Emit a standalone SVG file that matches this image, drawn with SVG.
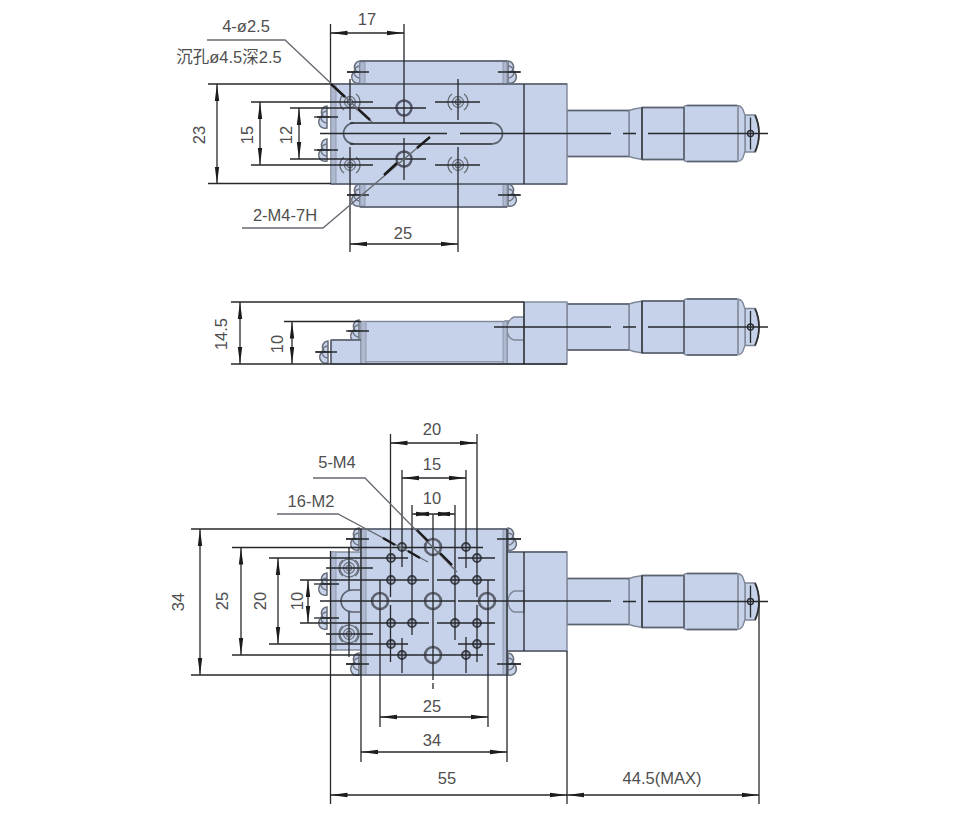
<svg xmlns="http://www.w3.org/2000/svg" width="980" height="827" viewBox="0 0 980 827">
<style>
.f{fill:#c5d2ea;stroke:#7f8797;stroke-width:1.4}
.b{fill:#aeb9d0;stroke:#8790a2;stroke-width:.8}
.e{fill:none;stroke:#5b6270;stroke-width:1.6}
.a{fill:none;stroke:#6f7582;stroke-width:1.3}
.d{fill:#c5d2ea;stroke:#666c78;stroke-width:1.5}
.l{fill:none;stroke:#26282c;stroke-width:1.3}
.m{fill:none;stroke:#26282c;stroke-width:1.3;marker-start:url(#ar);marker-end:url(#ar)}
.q{fill:none;stroke:#666a70;stroke-width:1.3}
.k{fill:none;stroke:#1c1c1c;stroke-width:2.400}
text{font-family:"Liberation Sans","Noto Sans CJK SC",sans-serif;font-size:16.5px;fill:#4f4f4f;text-anchor:middle;dominant-baseline:central}
</style>
<defs>
<marker id="ar" markerUnits="userSpaceOnUse" markerWidth="18" markerHeight="6" refX="17" refY="3" orient="auto-start-reverse"><path d="M17,3 L0,0.800 L0,5.200z" fill="#1c1c1c"/></marker>
<g id="micro">
<path class="f" d="M745,-18.500 H755 Q759,-10 759,0 Q759,10 755,18.500 H745z"/>
<path d="M755,-18.500 Q759,-10 759,0 Q759,10 755,18.500" fill="none" stroke="#333" stroke-width="1.8"/>
<path class="f" d="M684,-26 Q684,-28 687,-28 H737 Q741,-28 743,-24 L745,-18 V18 L743,24 Q741,28 737,28 H687 Q684,28 684,26z"/>
<path class="f" d="M642,-26 H684 V26 H642z"/>
<path class="f" d="M629,-23 L634,-24.500 L642,-26 V26 L634,24.500 L629,23z"/>
<rect class="f" x="567" y="-23" width="62" height="46"/>
<path class="e" d="M567,-23 H629 M567,23 H629 M642,-26 H684 M642,26 H684 M687,-28 H737 M687,28 H737"/>
<path class="l" d="M642,-26 V26"/>
<path class="e" d="M684,-26 V26" stroke-width="2.200"/>
<path class="a" d="M738,-27 V27"/>
<path class="l" d="M623,0 H636 M648,0 H768 M750.500,-16 V16"/>
<circle cx="750.500" cy="0" r="3" class="l"/>
</g>
<g id="sl"><path class="d" d="M1,-11 A6,6 0 0 0 -3,-1 A6,6 0 0 0 1,11z"/><path class="a" d="M1,-6 A6,6 0 0 0 1,6"/><path class="l" d="M-12,0 H11"/></g>
<g id="sr"><path class="d" d="M-1,-11 A6,6 0 0 1 3,-1 A6,6 0 0 1 -1,11z"/><path class="a" d="M-1,-6 A6,6 0 0 1 -1,6"/><path class="l" d="M-11,0 H12"/></g>
<g id="cb"><circle r="5.500" class="a"/><circle r="2.800" class="a"/><path class="q" d="M-6,-8 A10,10 0 0 0 -6,8 M6,-8 A10,10 0 0 1 6,8"/></g>
<g id="m4"><circle r="7.500" fill="#c5d2ea" stroke="#55596a" stroke-width="2.400"/></g>
<g id="m2"><circle r="4" fill="#aab5cc" stroke="#3d4048" stroke-width="1.800"/></g>
<g id="m5"><circle r="8" fill="#c5d2ea" stroke="#5f6470" stroke-width="2.600"/></g>
</defs>
<rect width="980" height="827" fill="#fff"/>

<g id="top-view">
<use href="#micro" x="0" y="133.500"/>
<use href="#sl" x="359" y="72"/><use href="#sl" x="359" y="195"/>
<use href="#sr" x="509" y="72"/><use href="#sr" x="509" y="195"/>
<use href="#sl" x="326" y="117"/><use href="#sl" x="326" y="150"/>
<rect class="f" x="360" y="61" width="147" height="23"/>
<rect class="f" x="360" y="184" width="147" height="23"/>
<path class="b" d="M360,62 h5 v22 h-5z M360,184 h5 v22 h-5z M503,62 h4 v22 h-4z M503,184 h4 v22 h-4z"/>
<rect class="f" x="331" y="84" width="236" height="100"/>
<rect class="b" x="331" y="84" width="5" height="100"/>
<path class="e" d="M360,61 H507 M360,207 H507 M331,84 H567 M331,184 H567"/>
<path class="l" d="M524,84 V184"/>
<path class="e" d="M354,123 A10.500,10.500 0 0 0 354,144"/>
<path class="e" d="M492,123 A10.500,10.500 0 0 1 492,144"/>
<path class="l" d="M350,123 H492 M350,144 H492"/>
<path class="l" d="M347,72 H369 M498,72 H520 M347,195 H369 M498,195 H520 M317,117 H338 M317,150 H338"/>
<use href="#cb" x="350" y="102"/><use href="#cb" x="350" y="165"/>
<use href="#cb" x="458" y="102"/><use href="#cb" x="458" y="165"/>
<use href="#m4" x="404" y="108"/><use href="#m4" x="404" y="159"/>
<path class="l" d="M320,133.500 H447 M460,133.500 H611 M435,102 H480 M435,165 H480 M404,138 V180 M404,24 V123 M350,79 V120 M350,147 V252 M458,79 V120 M458,147 V252"/>
</g>

<g id="side-view">
<use href="#micro" x="0" y="327"/>
<use href="#sl" x="327" y="352"/>
<use href="#sl" x="358" y="331"/>
<rect class="f" x="331" y="340" width="31" height="24"/>
<rect class="f" x="505" y="321" width="20" height="43"/>
<path class="f" d="M524,317 H514 Q507,320 507,329 Q507,338 514,340 H524z"/>
<rect class="f" x="361" y="321.500" width="146" height="42.500"/>
<path class="b" d="M361,321.500 h5 v42.500 h-5z M503,321.500 h4 v42.500 h-4z M366,361.500 h137 v2.500 h-137z"/>
<rect class="f" x="524" y="302" width="43" height="62"/>
<path class="e" d="M331,340 H361 M331,340 V364"/>
<path class="l" d="M524,302 V364 M494,327 H611 M316,352 H337 M348,331 H369"/>
</g>

<g id="bottom-view">
<use href="#micro" x="0" y="601.500"/>
<use href="#sl" x="326" y="584"/><use href="#sl" x="326" y="618"/>
<rect class="f" x="331" y="552" width="32" height="98"/>
<rect class="b" x="331" y="552" width="5" height="98"/>
<rect class="f" x="505" y="552" width="62" height="99"/>
<path class="e" d="M505,552 H567 M505,651 H567"/>
<path class="f" d="M524,591 H514 Q508,594 508,601.500 Q508,609 514,612 H524z"/>
<path class="e" d="M361,590 H352 A11,11 0 0 0 352,612 H361"/>
<use href="#cb" x="349" y="568"/><use href="#cb" x="349" y="634"/>
<circle cx="349" cy="568" r="9" class="a"/><circle cx="349" cy="634" r="9" class="a"/>
<use href="#sl" x="358" y="539"/><use href="#sl" x="358" y="664"/>
<use href="#sr" x="509" y="539"/><use href="#sr" x="509" y="664"/>
<rect class="f" x="361" y="529" width="146" height="146"/>
<path class="b" d="M361,529 h5 v146 h-5z M503,529 h4 v146 h-4z"/>
<path class="e" d="M361,529 H507 M361,675 H507"/>
<use href="#m5" x="433" y="547"/><use href="#m5" x="433" y="601"/><use href="#m5" x="433" y="655"/><use href="#m5" x="380" y="601"/><use href="#m5" x="487" y="601"/>
<use href="#m2" x="391" y="558"/><use href="#m2" x="402" y="547"/><use href="#m2" x="466" y="547"/><use href="#m2" x="477" y="558"/>
<use href="#m2" x="391" y="580"/><use href="#m2" x="412" y="580"/><use href="#m2" x="455" y="580"/><use href="#m2" x="477" y="580"/>
<use href="#m2" x="391" y="623"/><use href="#m2" x="412" y="623"/><use href="#m2" x="455" y="623"/><use href="#m2" x="477" y="623"/>
<use href="#m2" x="391" y="644"/><use href="#m2" x="402" y="655"/><use href="#m2" x="466" y="655"/><use href="#m2" x="477" y="644"/>
<path class="l" d="M524,552 V651 M320,601 H455 M458,601 H611 M326,568 H373 M326,634 H373 M349,547 V590 M349,612 V657 M322,584 H339 M322,618 H339 M346,539 H369 M346,664 H369 M497,539 H521 M497,664 H521"/>
</g>

<g id="connectors">
<path class="l" d="M330.500,24 V84 M208,84 H331 M208,183.500 H331 M251,102 H373 M251,165 H373 M290,108 H426 M290,159 H426"/>
<path class="m" d="M330.500,33 H404"/><path class="m" d="M217,84 V183.500"/><path class="m" d="M260,102 V165"/><path class="m" d="M299,108 V159"/><path class="m" d="M350,244 H458"/>
<path class="q" d="M207,40 H285 L372,122"/><path class="k" d="M331,84 L345,97 M358,109 L370,120"/>
<path class="q" d="M242,228 H323 L430,137"/><path class="k" d="M384,175 L397,163 M417,148 L430,137"/>

<path class="l" d="M231,302 H524 M231,364 H567 M284,321.500 H361"/>
<path class="m" d="M240,302 V364"/><path class="m" d="M292,321.500 V364"/>

<path class="l" d="M390.500,434 V597 M390.500,605 V662 M402,470 V567 M402,638 V673 M412,505 V635 M433,514 V680 M433,683 V689 M455,505 V640 M466,470 V568 M466,637 V673 M477,434 V597 M477,605 V662"/>
<path class="m" d="M390.500,443 H477"/><path class="m" d="M402,478 H466"/><path class="m" d="M412,514 H433"/><path class="m" d="M433,514 H455"/>
<path class="l" d="M191,529 H361 M191,675 H361 M232,547.500 H483 M232,655 H483 M269,558 H408 M458,558 H495 M269,644 H408 M458,644 H495 M300,580 H429 M437,580 H495 M300,623 H429 M437,623 H495"/>
<path class="m" d="M200,529 V675"/><path class="m" d="M241,547.500 V655"/><path class="m" d="M278,558 V644"/><path class="m" d="M308,580 V623"/>
<path class="l" d="M380,580 V727 M488,580 V727 M361,529 V762 M507,529 V762 M330.500,551 V804 M567,651 V804 M759,602 V804"/>
<path class="m" d="M380,717 H488"/><path class="m" d="M361,752 H507"/><path class="m" d="M330.500,795 H567"/><path class="m" d="M567,795 H759"/>
<path class="q" d="M313,478 H365 L457,572"/><path class="k" d="M417,530 L428,541 M440,553 L452,565"/>
<path class="q" d="M277,514 H338 L428,562"/><path class="k" d="M383,538 L395,545 M408,551 L420,558"/>
</g>

<g id="labels">
<text x="367" y="19">17</text>
<text x="246" y="26">4-ø2.5</text>
<text x="229" y="57">沉孔ø4.5深2.5</text>
<text x="199" y="135" transform="rotate(-90 199 135)">23</text>
<text x="247" y="135" transform="rotate(-90 247 135)">15</text>
<text x="286" y="135" transform="rotate(-90 286 135)">12</text>
<text x="403" y="233">25</text>
<text x="285" y="215">2-M4-7H</text>
<text x="221" y="334" transform="rotate(-90 221 334)">14.5</text>
<text x="277" y="344" transform="rotate(-90 277 344)">10</text>
<text x="432" y="429">20</text>
<text x="432" y="464">15</text>
<text x="432" y="498">10</text>
<text x="337" y="462">5-M4</text>
<text x="311" y="501">16-M2</text>
<text x="178" y="602" transform="rotate(-90 178 602)">34</text>
<text x="222" y="601" transform="rotate(-90 222 601)">25</text>
<text x="260" y="601" transform="rotate(-90 260 601)">20</text>
<text x="297" y="601" transform="rotate(-90 297 601)">10</text>
<text x="432" y="706">25</text>
<text x="432" y="740">34</text>
<text x="447" y="778">55</text>
<text x="662" y="778">44.5(MAX)</text>
</g>
</svg>
